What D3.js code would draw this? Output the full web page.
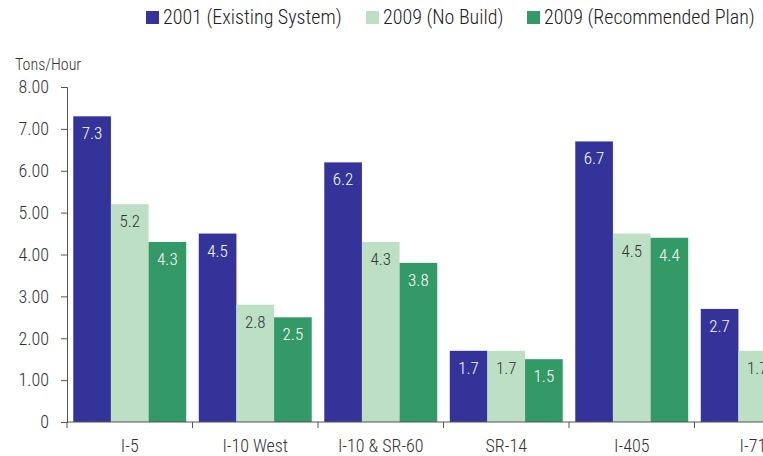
<!DOCTYPE html>
<meta charset="utf-8">
<script src="https://d3js.org/d3.v7.min.js"></script>
<style>
  body { margin: 0; background: #fff; }
  text { font-family: "Liberation Sans Narrow", "Roboto Condensed", "DejaVu Sans Condensed", sans-serif; font-weight: 300; }
</style>
<div id="chart"></div>
<script>
  // data
  var routes = ["I-5", "I-10 West", "I-10 & SR-60", "SR-14", "I-405", "I-710"];
  var series = ["2001 (Existing System)", "2009 (No Build)", "2009 (Recommended Plan)"];
  var existing2001 = [7.3, 4.5, 6.2, 1.7, 6.7, 2.7];
  var noBuild2009 = [5.2, 2.8, 4.3, 1.7, 4.5, 1.7];
  var recommended2009 = [4.3, 2.5, 3.8, 1.5, 4.4, 1.6];
  var yTicks = [0, 1, 2, 3, 4, 5, 6, 7, 8];

  var colors = ["#333399", "#bde0c5", "#339966"];
  var labelColors = ["#ffffff", "#333333", "#ffffff"];

  var width = 763, height = 456;
  var plotLeft = 67, plotBottom = 422, plotTop = 87;
  var step = 125.5;

  var svg = d3.select("#chart").append("svg")
    .attr("width", width)
    .attr("height", height);

  var x0 = d3.scaleBand()
    .domain(routes)
    .range([plotLeft, plotLeft + step * routes.length])
    .paddingInner(0.1)
    .paddingOuter(0.05);

  var x1 = d3.scaleBand()
    .domain(d3.range(series.length))
    .range([0, x0.bandwidth()]);

  var y = d3.scaleLinear()
    .domain([0, 8])
    .range([plotBottom, plotTop]);

  var values = [existing2001, noBuild2009, recommended2009];
  var rows = [];
  routes.forEach(function (r, i) {
    values.forEach(function (v, s) {
      rows.push({ route: r, s: s, v: v[i] });
    });
  });

  // bars
  svg.selectAll("rect.bar")
    .data(rows)
    .enter().append("rect")
    .attr("class", "bar")
    .attr("x", function (d) { return x0(d.route) + x1(d.s); })
    .attr("y", function (d) { return y(d.v); })
    .attr("width", x1.bandwidth())
    .attr("height", function (d) { return plotBottom - y(d.v); })
    .attr("fill", function (d) { return colors[d.s]; });

  // value labels
  svg.selectAll("text.val")
    .data(rows)
    .enter().append("text")
    .attr("class", "val")
    .attr("x", function (d) { return x0(d.route) + x1(d.s) + x1.bandwidth() / 2; })
    .attr("y", function (d) { return y(d.v) + 23; })
    .attr("text-anchor", "middle")
    .attr("font-size", 17)
    .attr("fill", function (d) { return labelColors[d.s]; })
    .text(function (d) { return d.v.toFixed(1); });

  // y axis
  var yAxis = svg.append("g")
    .attr("transform", "translate(" + plotLeft + ",0)")
    .call(d3.axisLeft(y).tickValues(yTicks).tickSize(6).tickPadding(12)
      .tickFormat(function (d) { return d === 0 ? "0" : d.toFixed(2); }));
  yAxis.select(".domain").attr("stroke", "#555");
  yAxis.selectAll(".tick line").attr("stroke", "#555");
  yAxis.selectAll("text").attr("font-size", 18).attr("fill", "#333")
    .style("font-family", "\"Liberation Sans Narrow\", \"Roboto Condensed\", sans-serif");

  // x axis
  var xAxis = svg.append("g")
    .attr("transform", "translate(0," + plotBottom + ")");
  xAxis.append("line")
    .attr("x1", plotLeft).attr("x2", width)
    .attr("stroke", "#555");
  xAxis.selectAll("line.tk")
    .data(d3.range(routes.length + 1))
    .enter().append("line")
    .attr("class", "tk")
    .attr("x1", function (i) { return plotLeft + step * i; })
    .attr("x2", function (i) { return plotLeft + step * i; })
    .attr("y1", 0).attr("y2", 6)
    .attr("stroke", "#555");
  xAxis.selectAll("text")
    .data(routes)
    .enter().append("text")
    .attr("x", function (d) { return x0(d) + x0.bandwidth() / 2; })
    .attr("y", 30)
    .attr("text-anchor", "middle")
    .attr("font-size", 18)
    .attr("fill", "#333")
    .text(function (d) { return d; });

  // unit label
  svg.append("text")
    .attr("x", 15).attr("y", 70)
    .attr("font-size", 16)
    .attr("fill", "#333")
    .text("Tons/Hour");

  // legend
  var legendX = [146, 366, 527];
  var legend = svg.selectAll("g.leg")
    .data(series)
    .enter().append("g")
    .attr("class", "leg")
    .attr("transform", function (d, i) { return "translate(" + legendX[i] + ",11)"; });
  legend.append("rect")
    .attr("width", 13).attr("height", 13)
    .attr("fill", function (d, i) { return colors[i]; });
  legend.append("text")
    .attr("x", 17).attr("y", 13)
    .attr("font-size", 20)
    .attr("fill", "#222")
    .text(function (d) { return d; });
</script>
